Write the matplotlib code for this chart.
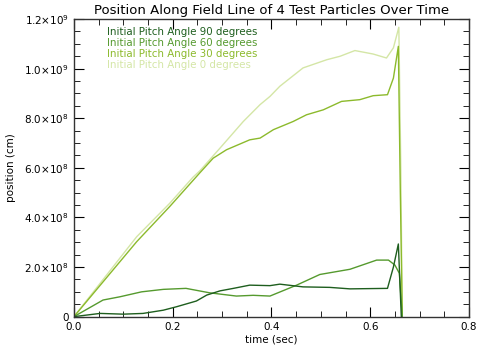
import numpy as np
import matplotlib
matplotlib.use("Agg")
import matplotlib.pyplot as plt
from matplotlib.ticker import MultipleLocator, FuncFormatter

# Values (time in sec, position in units of 1e8 cm)
t_0deg = [0.0, 0.127, 0.194, 0.241, 0.255, 0.296, 0.343, 0.377, 0.397, 0.417, 0.464,
          0.512, 0.539, 0.569, 0.606, 0.633, 0.647, 0.658, 0.662, 0.665]
p_0deg = [0.0, 3.22, 4.57, 5.62, 5.88, 6.8, 7.87, 8.55, 8.88, 9.29, 10.03,
          10.36, 10.5, 10.73, 10.59, 10.43, 10.84, 11.67, 6.0, 0.0]

t_30deg = [0.0, 0.127, 0.194, 0.255, 0.282, 0.309, 0.356, 0.377, 0.404, 0.444, 0.471,
           0.505, 0.542, 0.579, 0.606, 0.635, 0.647, 0.657, 0.661, 0.665]
p_30deg = [0.0, 3.02, 4.44, 5.8, 6.39, 6.73, 7.13, 7.2, 7.54, 7.87, 8.14,
           8.34, 8.68, 8.75, 8.91, 8.95, 9.62, 10.9, 5.0, 0.0]

t_60deg = [0.0, 0.059, 0.093, 0.137, 0.181, 0.227, 0.275, 0.329, 0.363, 0.397,
           0.451, 0.498, 0.559, 0.613, 0.637, 0.65, 0.659, 0.665]
p_60deg = [0.0, 0.67, 0.8, 1.0, 1.1, 1.14, 0.96, 0.83, 0.86, 0.83,
           1.27, 1.7, 1.91, 2.28, 2.28, 2.08, 1.75, 0.0]

t_90deg = [0.0, 0.053, 0.1, 0.14, 0.181, 0.208, 0.248, 0.269, 0.296, 0.323,
           0.356, 0.397, 0.417, 0.464, 0.518, 0.559, 0.635, 0.647, 0.657, 0.663]
p_90deg = [0.0, 0.13, 0.1, 0.13, 0.26, 0.4, 0.63, 0.87, 1.04, 1.14,
           1.27, 1.25, 1.31, 1.2, 1.18, 1.12, 1.14, 2.0, 2.93, 0.0]

labels = ["Initial Pitch Angle 90 degrees", "Initial Pitch Angle 60 degrees",
          "Initial Pitch Angle 30 degrees", "Initial Pitch Angle 0 degrees"]
colors = ["#1e5e1e", "#559a2e", "#8cba2c", "#d4e6a6"]


def fmt_y(v, pos):
    if abs(v) < 1:
        return "0"
    if v < 0:
        return ""
    exp = int(np.floor(np.log10(v) + 1e-9))
    mant = v / 10**exp
    return r"%.1f$\times$10$^{%d}$" % (mant, exp)


fig = plt.figure(figsize=(4.8, 3.53), dpi=100)
ax = fig.add_axes([0.154, 0.103, 0.823, 0.843])

series = [(t_90deg, p_90deg), (t_60deg, p_60deg), (t_30deg, p_30deg), (t_0deg, p_0deg)]
# draw light curves first so the dark ones sit on top
for i in [3, 2, 1, 0]:
    t, p = series[i]
    ax.plot(t, np.array(p) * 1e8, color=colors[i], lw=1.0)

ax.set_xlim(0, 0.8)
ax.set_ylim(0, 1.2e9)
ax.xaxis.set_major_locator(MultipleLocator(0.2))
ax.xaxis.set_minor_locator(MultipleLocator(0.05))
ax.yaxis.set_major_locator(MultipleLocator(2e8))
ax.yaxis.set_minor_locator(MultipleLocator(0.5e8))
ax.yaxis.set_major_formatter(FuncFormatter(fmt_y))
ax.xaxis.set_major_formatter(FuncFormatter(lambda v, p: "%.1f" % v))
ax.tick_params(which="both", direction="in", top=True, right=True, labelsize=7.5)
ax.tick_params(which="major", length=7)
ax.tick_params(which="minor", length=4)
for s in ax.spines.values():
    s.set_linewidth(1.0)
    s.set_color("#333333")

ax.set_title("Position Along Field Line of 4 Test Particles Over Time", fontsize=9.5, pad=4)
ax.set_xlabel("time (sec)", fontsize=7.5, labelpad=2)
ax.set_ylabel("position (cm)", fontsize=7.5, labelpad=6)

for i, lab in enumerate(labels):
    ax.text(0.085, 0.955 - i * 0.036, lab, color=colors[i], fontsize=7.4,
            transform=ax.transAxes, va="center", ha="left")

fig.savefig("out.png", dpi=100)
